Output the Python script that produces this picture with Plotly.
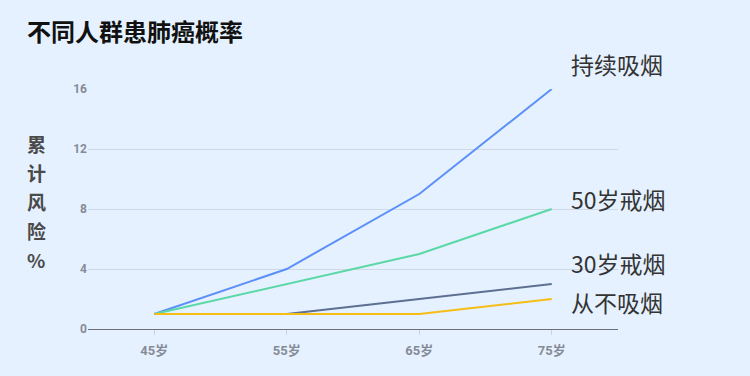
import plotly.graph_objects as go

categories = ["45岁", "55岁", "65岁", "75岁"]
series_names = ["持续吸烟", "50岁戒烟", "30岁戒烟", "从不吸烟"]
continuous = [1, 4, 9, 16]
quit50 = [1, 3, 5, 8]
quit30 = [1, 1, 2, 3]
never = [1, 1, 1, 2]
y_ticks = [0, 4, 8, 12, 16]
y_title_chars = ["累", "计", "风", "险", "%"]

values = [continuous, quit50, quit30, never]
colors = ["#5B8FF9", "#5AD8A6", "#5D7092", "#F6BD16"]
label_yshift = [25, 10, 21, -3]

fig = go.Figure()
for name, vals, c in zip(series_names, values, colors):
    fig.add_trace(go.Scatter(x=categories, y=vals, mode="lines", name=name,
                             line=dict(color=c, width=2), hoverinfo="skip"))

for name, vals, dy in zip(series_names, values, label_yshift):
    fig.add_annotation(x=categories[-1], y=vals[-1], text=name, showarrow=False,
                       xanchor="left", yanchor="middle", xshift=17, yshift=dy,
                       font=dict(size=23, color="#333333",
                                 family="Noto Sans CJK SC"))

# vertical axis title, one character per line
for i, ch in enumerate(y_title_chars):
    fig.add_annotation(xref="paper", yref="paper", x=-52 / 530,
                       y=(329 - 143 - 29 * i) / 240,
                       text=ch, showarrow=False,
                       xanchor="center", yanchor="middle",
                       font=dict(size=19, color="#4A4A4A",
                                 family="Noto Sans CJK SC", weight="bold"))

fig.update_layout(
    width=750, height=376,
    margin=dict(l=88, r=132, t=89, b=47),
    paper_bgcolor="#E5F1FF", plot_bgcolor="#E5F1FF",
    showlegend=False,
    title=dict(text="<b>不同人群患肺癌概率</b>", x=27 / 750, xanchor="left",
               y=1 - 33 / 376, yanchor="middle",
               font=dict(size=24, color="#111111", family="Noto Sans CJK SC")),
    xaxis=dict(type="category", range=[-0.5, 3.5], showgrid=False,
               showline=True, linecolor="#6E7079", linewidth=1,
               ticks="outside", ticklen=5, tickcolor="#C9D3E0",
               ticklabelstandoff=4,
               tickfont=dict(size=13, color="#858B96",
                             family="Roboto, Noto Sans CJK SC", weight="bold"),
               fixedrange=True, zeroline=False),
    yaxis=dict(range=[0, 16], tickvals=y_ticks, showgrid=True,
               gridcolor="#CFD9E6", gridwidth=1, zeroline=False,
               showline=False, ticks="",
               tickfont=dict(size=12, color="#858B96",
                             family="Roboto", weight="bold"),
               fixedrange=True),
)

fig.write_html("out.html")
